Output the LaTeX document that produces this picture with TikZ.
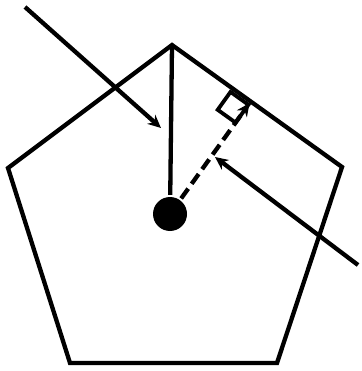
\documentclass[tikz,border=0pt]{standalone}
\usetikzlibrary{calc,arrows.meta}
\tikzset{
    dot/.style={circle, fill=black, inner sep=0pt, minimum size=34pt},
    seta/.style={->, line width=4.3pt},
}
\begin{document}
\begin{tikzpicture}[x=1pt,y=-1pt,line width=4.3pt,>={Stealth[length=13pt,width=12pt]}]
    \useasboundingbox (0,0) rectangle (361,371);
    % Pentágono
    \coordinate (top) at (172,45);
    \coordinate (right) at (342,167);
    \coordinate (br) at (277,363);
    \coordinate (bl) at (70,363);
    \coordinate (left) at (8,168);
    \draw (top) -- (right) -- (br) -- (bl) -- (left) -- cycle;

    % Centro, raio e apótema
    \node[dot] (ctr) at (170,214) {};
    \draw (top) -- (ctr);
    \coordinate (foot) at ($(top)!(ctr.center)!(right)$);
    \draw[->, dash pattern=on 12pt off 6pt, shorten >=2pt] (ctr) -- (foot);

    % Ângulo reto
    \coordinate (fs) at ($(foot)!4pt!(ctr.center)$);
    \coordinate (qa) at ($(fs)!22pt!-90:(ctr.center)$);
    \coordinate (qb) at ($(fs)!22pt!(ctr.center)$);
    \draw[line width=3.8pt] (fs) -- (qa) -- ($(qa)+(qb)-(fs)$) -- (qb) -- cycle;

    % Setas
    \coordinate (s1) at (25,7);
    \coordinate (e1) at (161,128);
    \draw[seta] (s1) -- (e1);
    \coordinate (s2) at (358,265);
    \coordinate (e2) at (215,157);
    \draw[seta] (s2) -- (e2);
\end{tikzpicture}
\end{document}
